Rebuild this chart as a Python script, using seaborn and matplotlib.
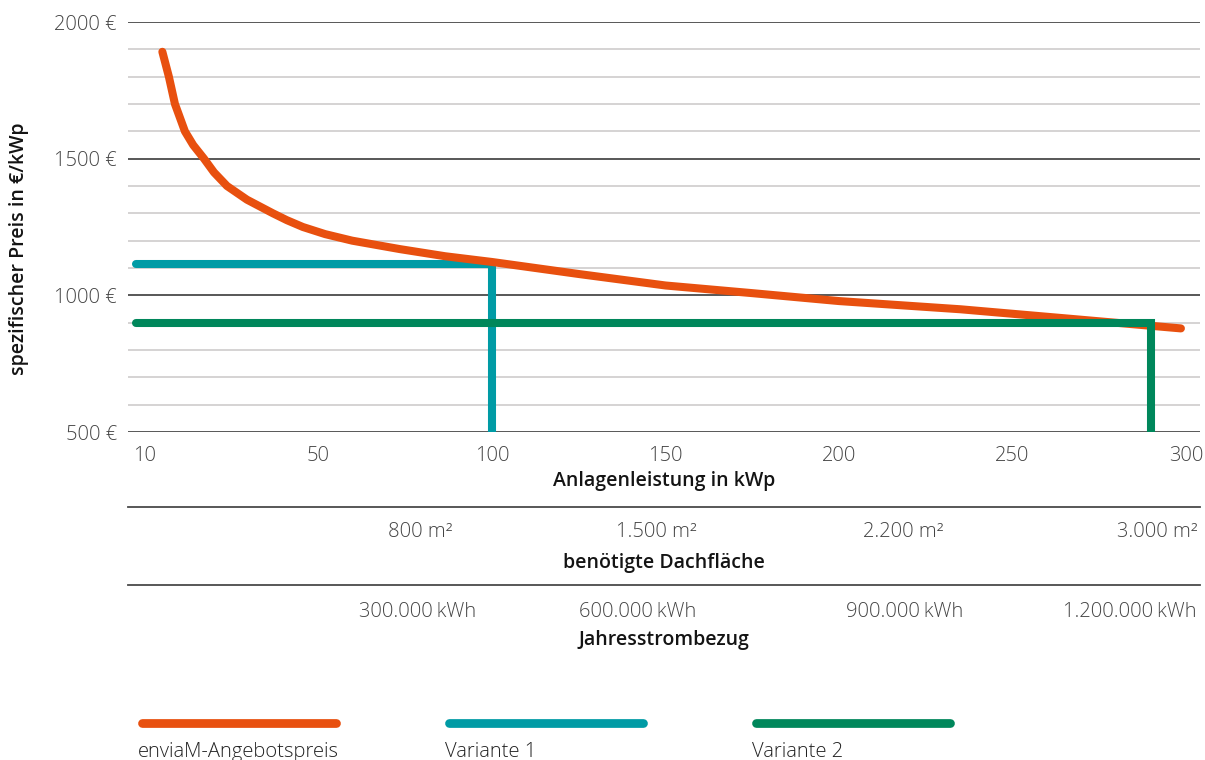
import numpy as np
import pandas as pd
import matplotlib
matplotlib.use("Agg")
import matplotlib.pyplot as plt
from matplotlib.lines import Line2D
import seaborn as sns

# ---- data -------------------------------------------------------------
# x-axis categories (evenly spaced on the axis)
kwp_ticks = [10, 50, 100, 150, 200, 250, 300]

# enviaM offer price curve: system size (kWp) -> specific price (EUR/kWp)
curve_kwp = [14.0, 15.5, 16.9, 19.2, 21.1, 23.6, 25.9, 28.9, 33.5, 39.5, 42.7,
             46.4, 51.9, 59.7, 73.5, 86.5, 100, 125, 150, 175, 200, 235, 265, 298.5]
curve_price = [1891, 1800, 1700, 1600, 1550, 1500, 1450, 1400, 1350, 1300, 1275,
               1250, 1224, 1200, 1169, 1143, 1122, 1078, 1036, 1008, 979, 949, 916, 879]

# the two variants: system size and specific price
variant_names = ["Variante 1", "Variante 2"]
variant_kwp = [100, 290]
variant_price = [1115, 900]

# secondary scales
area_labels = ["800 m²", "1.500 m²", "2.200 m²", "3.000 m²"]
energy_labels = ["300.000\u2009kWh", "600.000\u2009kWh", "900.000\u2009kWh", "1.200.000\u2009kWh"]

# y-axis
y_major = [500, 1000, 1500, 2000]
y_minor_step = 100

legend_labels = ["enviaM-Angebotspreis", "Variante 1", "Variante 2"]

# ---- style ------------------------------------------------------------
ORANGE = "#E8500F"
TEAL = "#009BA5"
GREEN = "#00875B"
DARK = "#4a4a4a"
LIGHT = "#d2d0d0"
TICK_COL = "#444444"
LABEL_COL = "#141414"
TICK_FS = 14.5
LABEL_FS = 14

sns.set_theme(style="white")
plt.rcParams["font.family"] = ["Open Sans", "DejaVu Sans"]

W, H = 1205, 760
fig = plt.figure(figsize=(W / 100, H / 100), dpi=100)

# main axes box in pixels
left_px, right_px, top_px, bottom_px = 128, 1200, 22, 432
ax = fig.add_axes([left_px / W, 1 - bottom_px / H,
                   (right_px - left_px) / W, (bottom_px - top_px) / H])


def to_pos(kwp):
    """Map kWp values onto the evenly spaced category positions."""
    return np.interp(kwp, kwp_ticks, np.arange(len(kwp_ticks)))


xlim = (-0.098, 6.08)
ax.set_xlim(*xlim)
ax.set_ylim(min(y_major), max(y_major))

# grid
ax.set_yticks(y_major)
ax.set_yticks(np.arange(min(y_major), max(y_major) + 1, y_minor_step), minor=True)
ax.grid(which="minor", axis="y", color=LIGHT, lw=1.3, zorder=0)
ax.grid(which="major", axis="y", color=DARK, lw=1.3, zorder=0.5)
ax.grid(False, axis="x", which="both")
for s in ax.spines.values():
    s.set_visible(False)
ax.set_axisbelow(True)
ax.tick_params(axis="both", which="both", length=0)
ax.set_yticklabels([f"{v} €" for v in y_major], fontsize=TICK_FS,
                   fontweight="light", color=TICK_COL)
ax.tick_params(axis="y", pad=8)

ax.set_xticks(np.arange(len(kwp_ticks)))
ax.set_xticklabels([str(v) for v in kwp_ticks], fontsize=TICK_FS,
                   fontweight="light", color=TICK_COL)
ax.tick_params(axis="x", pad=10)

LW = 5.8

# price curve
curve_df = pd.DataFrame({"pos": to_pos(curve_kwp), "price": curve_price})
sns.lineplot(data=curve_df, x="pos", y="price", ax=ax, color=ORANGE, lw=LW,
             estimator=None, sort=False, solid_capstyle="round",
             solid_joinstyle="round", zorder=4)

# variant lines: horizontal from the left edge, then down to the x-axis
start = xlim[0] + 0.045
for name, kwp, price, col, z in zip(variant_names, variant_kwp, variant_price,
                                    [TEAL, GREEN], [3, 5]):
    p = float(to_pos(kwp))
    df = pd.DataFrame({"pos": [start, p, p], "price": [price, price, min(y_major)]})
    sns.lineplot(data=df, x="pos", y="price", ax=ax, color=col, lw=LW,
                 estimator=None, sort=False, solid_capstyle="round",
                 solid_joinstyle="miter", zorder=z)

ax.set_xlabel("")
ax.set_ylabel("spezifischer Preis in €/kWp", fontsize=LABEL_FS, fontweight="semibold",
              color=LABEL_COL)
ax.yaxis.set_label_coords((29 - left_px) / (right_px - left_px),
                          (bottom_px - 249) / (bottom_px - top_px))


def frac_y(py):
    return (bottom_px - py) / (bottom_px - top_px)


# axis titles
ax.text(0.5, frac_y(481), "Anlagenleistung in kWp", transform=ax.transAxes,
        ha="center", va="center", fontsize=LABEL_FS, fontweight="semibold",
        color=LABEL_COL)

# secondary scales below the main axis
sec_specs = [
    (507, area_labels, [1.585, 2.945, 4.369, 5.833], 563, "benötigte Dachfläche", 11),
    (585, energy_labels, [1.568, 2.841, 4.380, 5.677], 640, "Jahresstrombezug", 12),
]
for line_py, labels, positions, title_py, title, pad in sec_specs:
    sec = ax.secondary_xaxis(frac_y(line_py))
    sec.spines["bottom"].set_visible(True)
    sec.spines["bottom"].set_color(DARK)
    sec.spines["bottom"].set_linewidth(1.3)
    sec.spines["top"].set_visible(False)
    sec.set_xticks(positions)
    sec.set_xticklabels(labels, fontsize=TICK_FS, fontweight="light", color=TICK_COL)
    sec.tick_params(axis="x", length=0, pad=pad)
    ax.text(0.5, frac_y(title_py), title, transform=ax.transAxes, ha="center",
            va="center", fontsize=LABEL_FS, fontweight="semibold", color=LABEL_COL)

# legend: coloured bar with its label underneath
leg_x = [138, 445, 752]
for x0, lab, col in zip(leg_x, legend_labels, [ORANGE, TEAL, GREEN]):
    fig.add_artist(Line2D([(x0 + 4) / W, (x0 + 198) / W], [1 - 723 / H] * 2,
                          color=col, lw=6.3, solid_capstyle="round",
                          transform=fig.transFigure))
    fig.text(x0 / W, 1 - 742 / H, lab, ha="left", va="top", fontsize=TICK_FS,
             fontweight="light", color="#222222")

fig.savefig("out.png", dpi=100, facecolor="white")
